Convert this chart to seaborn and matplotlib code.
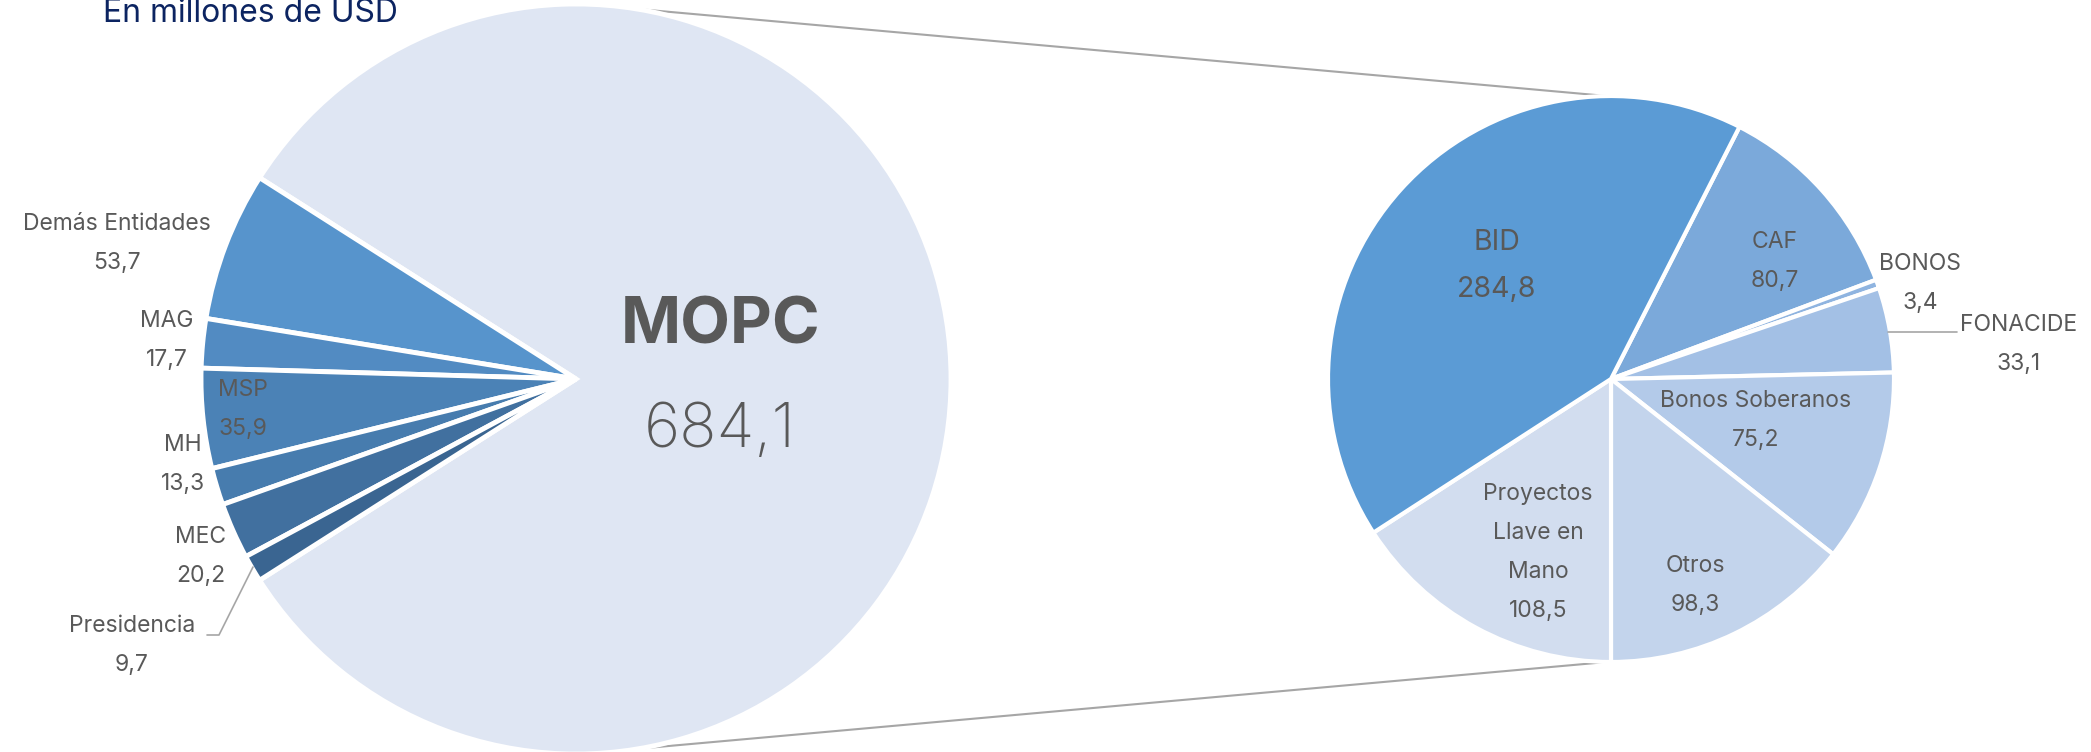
import numpy as np
import matplotlib
matplotlib.use("Agg")
import matplotlib.pyplot as plt
import seaborn as sns

# left pie: total by entity (millions USD)
entities = ["MOPC", "Demás Entidades", "MAG", "MSP", "MH", "MEC", "Presidencia"]
entity_values = [684.1, 53.7, 17.7, 35.9, 13.3, 20.2, 9.7]

# right pie: MOPC by source (clockwise from the top-right)
sources = ["CAF", "BONOS", "FONACIDE", "Bonos Soberanos", "Otros",
           "Proyectos\nLlave en\nMano", "BID"]
source_values = [80.7, 3.4, 33.1, 75.2, 98.3, 108.5, 284.8]

left_colors = ["#dfe6f3", "#5794cc", "#528bc2", "#4b82b6", "#477cae", "#41709f", "#3a6591"]
right_colors = ["#7ba9da", "#8fb4e0", "#a3c0e5", "#b3cae9", "#c3d4ec", "#d2ddef", "#5b9bd5"]

TXT = "#595959"
W, H = 2091, 752

sns.set_style("white")
plt.rcParams["font.family"] = ["Inter", "DejaVu Sans"]


def fmt(v):
    return f"{v:.1f}".replace(".", ",")


def Y(y):
    # convert a top-down pixel coordinate to the axes' upward y
    return H - y


fig = plt.figure(figsize=(W / 100, H / 100), dpi=100)
ax = fig.add_axes([0, 0, 1, 1])

lc, lr = (576, Y(379)), 375
rc, rr = (1611, Y(379)), 283

mopc_angle = entity_values[0] / sum(entity_values) * 360
ax.pie(entity_values, colors=left_colors, center=lc, radius=lr,
       startangle=-mopc_angle / 2, counterclock=True,
       wedgeprops=dict(edgecolor="white", linewidth=3.5), frame=True)
ax.pie(source_values, colors=right_colors, center=rc, radius=rr,
       startangle=63, counterclock=False,
       wedgeprops=dict(edgecolor="white", linewidth=3), frame=True)
ax.set_xlim(0, W)
ax.set_ylim(0, H)
ax.set_aspect("equal")
ax.axis("off")

# connector lines between the two pies
for a_l, a_r in [(80.7, 90.8), (-80.3, -90.8)]:
    p1 = (lc[0] + lr * np.cos(np.radians(a_l)), lc[1] + lr * np.sin(np.radians(a_l)))
    p2 = (rc[0] + rr * np.cos(np.radians(a_r)), rc[1] + rr * np.sin(np.radians(a_r)))
    ax.plot([p1[0], p2[0]], [p1[1], p2[1]], color="#a6a6a6", lw=1.5, zorder=0)

# label layout: (x center, baseline of first line, line step, font size)
FS = 16.5
label_pos = {
    "Demás Entidades": (117, 230, 39, FS),
    "MAG": (167, 327, 39, FS),
    "MSP": (243, 396, 39, FS),
    "MH": (183, 451, 39, FS),
    "MEC": (201, 543, 39, FS),
    "Presidencia": (132, 632, 39, FS),
    "BID": (1497, 250, 47, 20.5),
    "CAF": (1775, 248, 39, FS),
    "BONOS": (1920, 270, 39, FS),
    "FONACIDE": (2019, 331, 39, FS),
    "Bonos Soberanos": (1756, 407, 39, FS),
    "Otros": (1695, 572, 39, FS),
    "Proyectos\nLlave en\nMano": (1538, 500, 39, FS),
}

for name, val in list(zip(entities[1:], entity_values[1:])) + list(zip(sources, source_values)):
    x, yb, step, fs = label_pos[name]
    lines = name.split("\n") + [fmt(val)]
    for i, line in enumerate(lines):
        ax.text(x, Y(yb + i * step), line, ha="center", va="baseline",
                fontsize=fs, color=TXT)

# leader lines
ax.plot([207, 219, 253], [Y(635), Y(635), Y(567)], color="#a6a6a6", lw=1.2)
ax.plot([1888, 1957], [Y(332), Y(332)], color="#a6a6a6", lw=1.2)

# big MOPC label
ax.text(721, Y(343), entities[0], ha="center", va="baseline",
        fontsize=46.5, fontweight="bold", color=TXT)
ax.text(720, Y(447), fmt(entity_values[0]), ha="center", va="baseline",
        fontsize=44.5, fontweight="light", color=TXT)

# subtitle, cut off at the top edge
ax.text(103, Y(22), "En millones de USD", ha="left", va="baseline",
        fontsize=23, color="#0c2461")

fig.savefig("out.png", dpi=100)
